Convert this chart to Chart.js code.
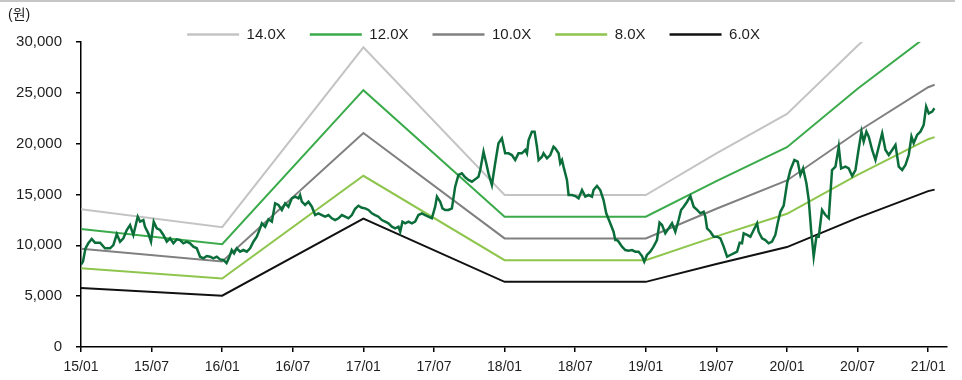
<!DOCTYPE html>
<html>
<head>
<meta charset="utf-8">
<script src="https://cdn.jsdelivr.net/npm/chart.js@4.4.1/dist/chart.umd.min.js"></script>
<style>
    html, body { margin: 0; padding: 0; background: #fff; }
    #wrap { width: 962px; height: 380px; }
</style>
</head>
<body>
<div id="wrap"><canvas id="chart" width="962" height="380"></canvas></div>
<script>
// Months since 2015/01 on the x axis, ticks every 6 months
var tickLabels = ['15/01', '15/07', '16/01', '16/07', '17/01', '17/07', '18/01',
    '18/07', '19/01', '19/07', '20/01', '20/07', '21/01'];

// PER band lines (원)
var bandMonths = [0, 12, 24, 36, 48, 54, 60, 66, 72, 72.55];
var band14 = [13538, 11788, 29470, 14952, 14952, 19040, 22932, 29638, 35770, 36120];
var band12 = [11604, 10104, 25260, 12816, 12816, 16320, 19656, 25404, 30660, 30960];
var band10 = [9670, 8420, 21050, 10680, 10680, 13600, 16380, 21170, 25550, 25800];
var band8 = [7736, 6736, 16840, 8544, 8544, 10880, 13104, 16936, 20440, 20640];
var band6 = [5802, 5052, 12630, 6408, 6408, 8160, 9828, 12702, 15330, 15480];

// Share price (원)
var priceMonths = [
    0, 0.17, 0.38, 0.62, 0.91, 1.19, 1.62, 2.04, 2.47, 2.75, 3.04, 3.32, 3.60, 3.89, 4.17, 4.45,
    4.82, 5.02, 5.30, 5.44, 5.72, 5.95, 6.18, 6.44, 6.72, 7.00, 7.29, 7.57, 7.85, 8.14, 8.42, 8.70,
    8.99, 9.27, 9.55, 9.84, 10.12, 10.40, 10.69, 10.97, 11.25, 11.54, 11.82, 12.10, 12.37, 12.59,
    12.81, 13.01, 13.24, 13.52, 13.80, 14.09, 14.37, 14.65, 14.94, 15.22, 15.37, 15.65, 15.93, 16.22,
    16.50, 16.78, 17.07, 17.35, 17.63, 17.92, 18.20, 18.48, 18.62, 18.77, 19.05, 19.33, 19.62, 19.90,
    20.18, 20.47, 20.75, 21.03, 21.32, 21.60, 21.88, 22.17, 22.45, 22.73, 23.02, 23.30, 23.58, 23.87,
    24.15, 24.43, 24.72, 25.00, 25.28, 25.57, 25.85, 26.13, 26.42, 26.70, 26.98, 27.13, 27.32, 27.55,
    27.83, 28.12, 28.40, 28.68, 28.97, 29.25, 29.53, 29.82, 30.10, 30.25, 30.53, 30.72, 30.95, 31.23,
    31.52, 31.80, 32.08, 32.37, 32.65, 32.93, 33.22, 33.50, 33.78, 33.93, 34.21, 34.44, 34.63, 34.92,
    35.20, 35.48, 35.77, 36.05, 36.33, 36.62, 36.90, 37.18, 37.47, 37.76, 37.90, 38.04, 38.32, 38.55,
    38.75, 38.89, 39.18, 39.31, 39.60, 39.88, 40.16, 40.31, 40.59, 40.73, 40.88, 41.01, 41.30, 41.44,
    41.73, 42.01, 42.29, 42.58, 42.86, 43.14, 43.43, 43.56, 43.85, 44.13, 44.41, 44.64, 44.98, 45.26,
    45.41, 45.55, 45.69, 45.98, 46.26, 46.54, 46.83, 47.11, 47.39, 47.68, 47.87, 48.10, 48.38, 48.66,
    48.95, 49.17, 49.38, 49.66, 49.94, 50.23, 50.51, 50.79, 51.00, 51.22, 51.51, 51.79, 52.07, 52.36,
    52.64, 52.92, 53.06, 53.21, 53.49, 53.77, 54.06, 54.34, 54.62, 54.91, 55.19, 55.47, 55.76, 55.98,
    56.18, 56.32, 56.61, 56.89, 57.17, 57.46, 57.59, 57.88, 58.16, 58.44, 58.73, 59.01, 59.21, 59.44,
    59.72, 60.01, 60.29, 60.63, 60.91, 61.14, 61.37, 61.65, 61.85, 62.05, 62.27, 62.50, 62.70, 62.98,
    63.27, 63.55, 63.83, 64.12, 64.40, 64.60, 64.97, 65.25, 65.54, 65.82, 66.10, 66.33, 66.52, 66.75,
    66.95, 67.24, 67.52, 67.80, 68.09, 68.37, 68.65, 68.94, 69.22, 69.50, 69.79, 70.07, 70.35, 70.58,
    70.77, 71.06, 71.34, 71.62, 71.83, 72.05, 72.34, 72.53
];
var priceValues = [
    8100, 8400, 9700, 10200, 10620, 10260, 10260, 9710, 9710, 10030, 11110, 10360, 10690, 11510, 12000, 11020,
    12820, 12330, 12490, 11830, 11180, 10360, 12330, 11670, 11510, 11020, 10360, 10690, 10200, 10590, 10520, 10200,
    10360, 10200, 9870, 9710, 8880, 8720, 8950, 8880, 8720, 8880, 8620, 8560, 8250, 8800,
    9540, 9210, 9710, 9380, 9540, 9380, 9710, 10360, 10850, 11670, 12170, 11830, 12560, 12330,
    14130, 13970, 13480, 14130, 13800, 14620, 14790, 14620, 14950, 14290, 13970, 14290, 13800, 12980,
    13150, 12980, 12820, 12980, 12660, 12490, 12660, 12980, 12820, 12660, 12980, 13600, 13900, 13700,
    13640, 13480, 13150, 12980, 12820, 12490, 12330, 12170, 11830, 11670, 11830, 11340, 12330, 12170,
    12330, 12170, 12330, 12980, 13150, 12980, 12820, 12660, 13800, 14790, 14290, 13640, 13480, 13480,
    13640, 15770, 16920, 17080, 16690, 16430, 16260, 16490, 16750, 17410, 19210, 18070, 17080, 15930,
    18070, 20040, 20530, 19050, 19050, 18880, 18390, 19050, 19050, 19380, 19050, 20360, 21180, 21180,
    19700, 18390, 18720, 19050, 18560, 18880, 19700, 19540, 19050, 18070, 18390, 17740, 16430, 14950,
    14950, 14850, 14620, 15440, 14790, 14950, 14790, 15440, 15840, 15440, 14460, 13150, 12170, 11340,
    10520, 10520, 10360, 9870, 9540, 9480, 9540, 9380, 9380, 8950, 8390, 9050, 9380, 9870,
    10520, 12230, 12000, 11180, 11670, 12170, 11340, 12490, 13480, 13800, 14290, 14850, 13800, 13480,
    13150, 13310, 12820, 11670, 11340, 10850, 10850, 10690, 9870, 8880, 9050, 9210, 9380, 10260,
    10200, 11180, 11020, 10850, 11510, 12170, 11340, 10690, 10520, 10200, 10360, 11020, 12170, 13300,
    13900, 16100, 17410, 18390, 18230, 16920, 17570, 16100, 14460, 11510, 8880, 10850, 10850, 13480,
    12980, 12660, 17410, 17740, 19700, 17570, 17740, 17570, 16820, 17410, 19540, 21180, 20200, 21180,
    20690, 19380, 18390, 19700, 21020, 19380, 18880, 19380, 19870, 17740, 17410, 17900, 18880, 20690,
    20040, 20860, 21180, 21840, 23640, 22970, 23150, 23480
];

var yTicks = { min: 0, max: 30000, step: 5000 };
var FONT = '"Liberation Sans", Arial, "Noto Sans CJK KR", sans-serif';

// Zip two arrays into {x, y} points for the linear x scale
function toPoints(xs, ys) {
    var pts = [];
    for (var i = 0; i < xs.length; i++) {
        pts.push({ x: xs[i], y: ys[i] });
    }
    return pts;
}

function bandDataset(label, values, color) {
    return {
        label: label,
        data: toPoints(bandMonths, values),
        borderColor: color,
        backgroundColor: color,
        borderWidth: 2,
        pointRadius: 0,
        tension: 0,
        fill: false,
        order: 1
    };
}

// Unit label and thin top rule, drawn on the canvas
var decorPlugin = {
    id: 'decor',
    afterDraw: function(chart) {
        var ctx = chart.ctx;
        ctx.save();
        ctx.fillStyle = '#c6c6c6';
        ctx.fillRect(0, 0, 955, 2);
        ctx.fillStyle = '#1e1e1e';
        ctx.font = '14px ' + FONT;
        ctx.textBaseline = 'middle';
        ctx.textAlign = 'left';
        ctx.fillText('(원)', 8, 15);
        ctx.restore();
    }
};

var chart = new Chart(document.getElementById('chart'), {
    type: 'line',
    data: {
        datasets: [
            {
                label: '주가',
                data: toPoints(priceMonths, priceValues),
                borderColor: '#0b6e3a',
                backgroundColor: '#0b6e3a',
                borderWidth: 2.5,
                pointRadius: 0,
                tension: 0,
                fill: false,
                order: 0
            },
            bandDataset('14.0X', band14, '#c4c4c4'),
            bandDataset('12.0X', band12, '#3aaa4a'),
            bandDataset('10.0X', band10, '#808080'),
            bandDataset('8.0X', band8, '#8ec54c'),
            bandDataset('6.0X', band6, '#111111')
        ]
    },
    options: {
        responsive: false,
        animation: false,
        layout: { padding: { top: 3, right: 15, bottom: 0, left: 0 } },
        plugins: {
            legend: {
                display: true,
                position: 'top',
                maxHeight: 39,
                labels: {
                    color: '#1e1e1e',
                    font: { family: FONT, size: 15 },
                    boxWidth: 52,
                    boxHeight: 2.5,
                    padding: 24,
                    filter: function(item) { return item.datasetIndex !== 0; },
                    generateLabels: function(c) {
                        var items = Chart.defaults.plugins.legend.labels.generateLabels(c);
                        items.forEach(function(it) {
                            it.lineWidth = 0;
                            it.fillStyle = it.strokeStyle;
                        });
                        return items;
                    }
                }
            },
            title: { display: false },
            tooltip: { enabled: false }
        },
        scales: {
            x: {
                type: 'linear',
                min: 0,
                max: 73.6,
                afterFit: function(scale) { scale.height = 33; },
                border: { display: true, color: '#000', width: 1.5 },
                grid: { drawOnChartArea: false, drawTicks: true, tickLength: 5, color: '#000', lineWidth: 1.5 },
                ticks: {
                    stepSize: 6,
                    includeBounds: false,
                    autoSkip: false,
                    maxRotation: 0,
                    padding: 7,
                    color: '#1e1e1e',
                    font: { family: FONT, size: 14 },
                    callback: function(v) {
                        var idx = Math.round(v / 6);
                        return tickLabels[idx] !== undefined ? tickLabels[idx] : '';
                    }
                }
            },
            y: {
                min: yTicks.min,
                max: yTicks.max,
                afterFit: function(scale) { scale.width = 81; },
                border: { display: true, color: '#000', width: 1.5 },
                grid: { drawOnChartArea: false, drawTicks: true, tickLength: 5, color: '#000', lineWidth: 1.5 },
                ticks: {
                    stepSize: yTicks.step,
                    padding: 14,
                    color: '#1e1e1e',
                    font: { family: FONT, size: 15 },
                    callback: function(v) { return v.toLocaleString('en-US'); }
                }
            }
        }
    },
    plugins: [decorPlugin]
});
</script>
</body>
</html>
